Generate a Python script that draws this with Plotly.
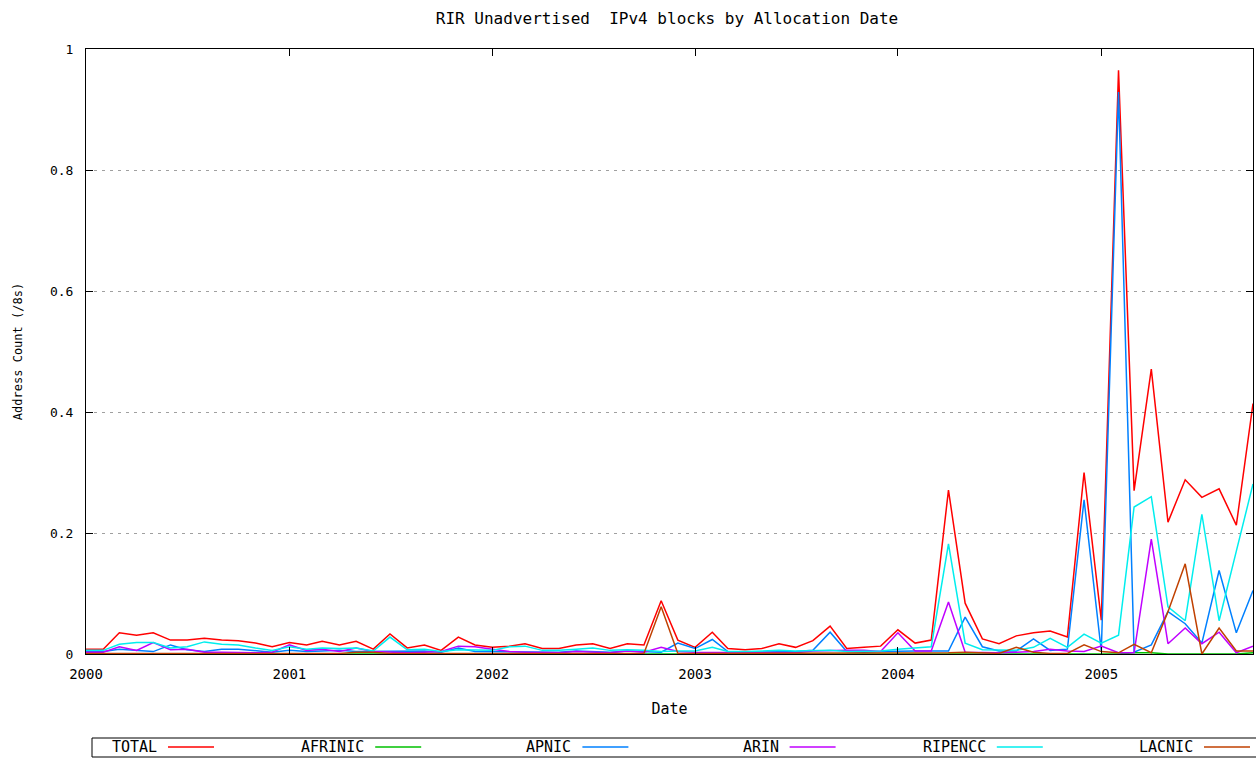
import pandas as pd
import plotly.graph_objects as go

months = pd.date_range('2000-01-01', periods=70, freq='MS')

total = [0.008, 0.008, 0.035, 0.031, 0.035, 0.023, 0.023, 0.026, 0.023, 0.022,
         0.018, 0.012, 0.019, 0.015, 0.021, 0.015, 0.021, 0.008, 0.033, 0.010,
         0.015, 0.006, 0.028, 0.015, 0.011, 0.013, 0.017, 0.009, 0.009, 0.015,
         0.017, 0.009, 0.017, 0.015, 0.088, 0.023, 0.011, 0.036, 0.009, 0.007,
         0.009, 0.017, 0.011, 0.022, 0.046, 0.009, 0.011, 0.013, 0.040, 0.018,
         0.023, 0.271, 0.084, 0.025, 0.017, 0.030, 0.035, 0.038, 0.028, 0.300,
         0.056, 0.965, 0.270, 0.471, 0.218, 0.288, 0.259, 0.273, 0.213, 0.414]

afrinic = [0.0] * 62 + [0.002, 0.002, 0.0, 0.0, 0.0, 0.0, 0.0, 0.002]

apnic = [0.004, 0.004, 0.008, 0.006, 0.004, 0.015, 0.007, 0.004, 0.008, 0.008,
         0.005, 0.003, 0.006, 0.004, 0.005, 0.006, 0.004, 0.004, 0.005, 0.004,
         0.005, 0.003, 0.010, 0.004, 0.004, 0.004, 0.003, 0.004, 0.003, 0.005,
         0.004, 0.003, 0.005, 0.004, 0.003, 0.018, 0.009, 0.024, 0.004, 0.003,
         0.003, 0.004, 0.004, 0.006, 0.036, 0.004, 0.003, 0.004, 0.005, 0.005,
         0.005, 0.005, 0.061, 0.012, 0.005, 0.005, 0.025, 0.006, 0.008, 0.255,
         0.005, 0.929, 0.003, 0.015, 0.070, 0.050, 0.018, 0.138, 0.035, 0.105]

arin = [0.003, 0.003, 0.012, 0.006, 0.019, 0.007, 0.008, 0.003, 0.003, 0.002,
        0.002, 0.003, 0.015, 0.006, 0.008, 0.004, 0.010, 0.004, 0.003, 0.002,
        0.003, 0.004, 0.013, 0.012, 0.008, 0.004, 0.003, 0.002, 0.002, 0.004,
        0.003, 0.002, 0.005, 0.003, 0.011, 0.004, 0.003, 0.003, 0.002, 0.002,
        0.002, 0.003, 0.002, 0.005, 0.006, 0.006, 0.006, 0.004, 0.035, 0.005,
        0.005, 0.086, 0.003, 0.002, 0.002, 0.003, 0.004, 0.008, 0.005, 0.004,
        0.013, 0.002, 0.002, 0.190, 0.017, 0.043, 0.017, 0.036, 0.002, 0.013]

ripencc = [0.006, 0.006, 0.016, 0.019, 0.019, 0.010, 0.012, 0.020, 0.016, 0.015,
           0.010, 0.006, 0.012, 0.008, 0.010, 0.009, 0.010, 0.005, 0.028, 0.007,
           0.008, 0.004, 0.007, 0.006, 0.006, 0.012, 0.013, 0.006, 0.006, 0.008,
           0.010, 0.006, 0.007, 0.006, 0.004, 0.005, 0.005, 0.011, 0.004, 0.004,
           0.005, 0.006, 0.005, 0.005, 0.006, 0.004, 0.004, 0.005, 0.008, 0.010,
           0.012, 0.182, 0.018, 0.007, 0.006, 0.006, 0.011, 0.026, 0.011, 0.033,
           0.018, 0.031, 0.243, 0.260, 0.078, 0.055, 0.231, 0.055, 0.170, 0.281]

lacnic = [0.001] * 16 + [0.003, 0.003] + [0.001] * 15 + [0.001, 0.078, 0.001] + \
         [0.001, 0.001, 0.002, 0.002, 0.001, 0.001, 0.002, 0.002] + [0.001] * 7 + \
         [0.002, 0.003, 0.002, 0.001, 0.011, 0.003, 0.001, 0.001, 0.015, 0.004,
          0.002, 0.016, 0.002, 0.070, 0.149, 0.000, 0.043, 0.005, 0.005]

series = [
    ('TOTAL', total, '#ff0000'),
    ('AFRINIC', afrinic, '#00c000'),
    ('APNIC', apnic, '#0080ff'),
    ('ARIN', arin, '#c000ff'),
    ('RIPENCC', ripencc, '#00eeee'),
    ('LACNIC', lacnic, '#c04000'),
]

FONT = 'DejaVu Sans Mono'
W, H = 1256, 758
L, R, T, B = 86, 3, 49, 104
PW, PH = W - L - R, H - T - B


# helpers: screen pixel -> paper coords
def px(x):
    return (x - L) / PW


def py(y):
    return (H - B - y) / PH


fig = go.Figure()
for name, vals, color in series:
    fig.add_trace(go.Scatter(x=months, y=vals, name=name, mode='lines',
                             line=dict(color=color, width=1.5)))

# gnuplot-like legend box below the plot: label then line sample
shapes = [dict(type='rect', xref='paper', yref='paper',
               x0=px(92), x1=px(1270), y0=py(738), y1=py(757),
               line=dict(color='black', width=1))]
annotations = []
for i, (name, vals, color) in enumerate(series):
    x0 = 168 + 207.2 * i
    shapes.append(dict(type='line', xref='paper', yref='paper',
                       x0=px(x0), x1=px(x0 + 46), y0=py(747), y1=py(747),
                       line=dict(color=color, width=1.5)))
    annotations.append(dict(text=name, xref='paper', yref='paper',
                            x=px(x0 - 9), y=py(747), xanchor='right', yanchor='middle',
                            showarrow=False, font=dict(family=FONT, size=15, color='black')))

fig.update_layout(
    width=W, height=H,
    margin=dict(l=L, r=R, t=T, b=B, autoexpand=False),
    plot_bgcolor='white', paper_bgcolor='white',
    showlegend=False,
    font=dict(family=FONT, size=14, color='black'),
    title=dict(text='RIR Unadvertised  IPv4 blocks by Allocation Date',
               xref='paper', x=px(667), xanchor='center',
               yref='container', y=1 - 18 / H, yanchor='middle',
               font=dict(family=FONT, size=16)),
    shapes=shapes,
    annotations=annotations,
)
fig.update_xaxes(
    range=['2000-01-01', '2005-10-01'],
    dtick='M12', tickformat='%Y', tick0='2000-01-01',
    ticks='inside', ticklen=7, tickcolor='black',
    showline=True, linecolor='black', linewidth=1, mirror='ticks',
    showgrid=False, zeroline=False, automargin=False,
    ticklabelstandoff=7,
    title=dict(text='Date', standoff=22, font=dict(family=FONT, size=15)),
)
fig.update_yaxes(
    range=[0, 1], dtick=0.2,
    ticks='inside', ticklen=7, tickcolor='black',
    showline=True, linecolor='black', linewidth=1, mirror='ticks',
    showgrid=True, gridcolor='#a0a0a0', griddash='3px,5px', gridwidth=1,
    zeroline=False, automargin=False,
    tickfont=dict(size=13),
    ticklabelstandoff=9,
    title=dict(text='Address Count (/8s)', font=dict(family=FONT, size=12), standoff=24),
)

# drop the default page margin so the figure fills the window exactly
fig.write_html('out.html', config={'displayModeBar': False},
               post_script="document.body.style.margin='0';"
                           "document.body.style.overflow='hidden';")
